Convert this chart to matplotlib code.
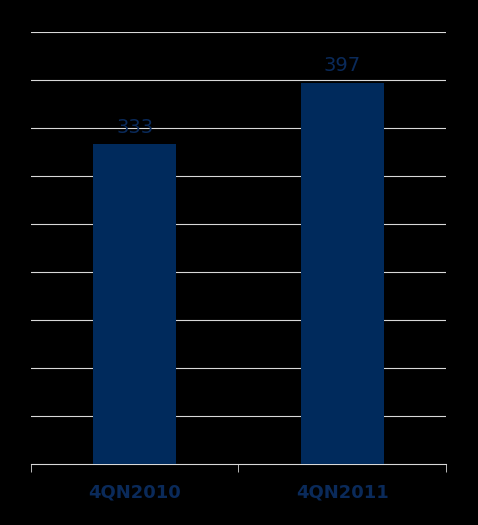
import matplotlib
matplotlib.use("Agg")
import matplotlib.pyplot as plt

categories = ["4QN2010", "4QN2011"]
values = [333, 397]

W, H = 478, 525
fig = plt.figure(figsize=(W/100, H/100), dpi=100, facecolor="black")
ax = fig.add_axes([31/W, 1-464/H, (446-31)/W, (464-32)/H], facecolor="black")
navy = "#002a5c"
x = [0.5, 1.5]
ax.bar(x, values, width=0.4, color=navy, zorder=3)
ax.set_xlim(0, 2)
ax.set_ylim(0, 450)
ax.set_yticks(range(50, 451, 50))
ax.yaxis.grid(True, color="#d9d9d9", linewidth=0.8)
ax.tick_params(axis="y", length=0, labelleft=False)
ax.set_xticks([0, 1, 2], minor=True)
ax.set_xticks(x)
ax.set_xticklabels(categories, color="#0a2a5a", fontsize=13, fontweight="bold")
ax.tick_params(axis="x", which="major", length=0, pad=14)
ax.tick_params(axis="x", which="minor", length=6, color="#d9d9d9", direction="out")
for s in ["left", "right", "top"]:
    ax.spines[s].set_visible(False)
ax.spines["bottom"].set_color("#d9d9d9")
for xi, v in zip(x, values):
    ax.text(xi, v + 8, str(v), ha="center", va="bottom", color="#0a2a5a", fontsize=14)
fig.savefig("out.png", dpi=100, facecolor="black")
